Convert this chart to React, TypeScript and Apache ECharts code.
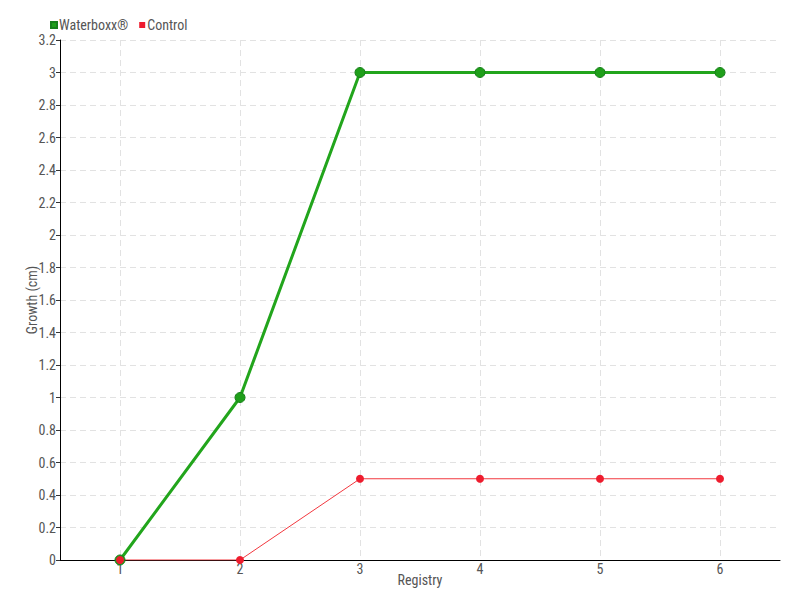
import React, { useEffect, useRef } from "react";
import * as echarts from "echarts";

const categories = ["1", "2", "3", "4", "5", "6"];
const waterboxx = [0, 1, 3, 3, 3, 3];
const control = [0, 0, 0.5, 0.5, 0.5, 0.5];
const gridCats = ["a", "1", "b", "2", "c", "3", "d", "4", "e", "5", "f", "6", "g"];

const FONT = "'Liberation Sans Narrow', 'Roboto Condensed', Roboto, sans-serif";

export default function App() {
  const ref = useRef<HTMLDivElement>(null);
  useEffect(() => {
    document.body.style.margin = "0";
    const chart = echarts.init(ref.current!, null, { renderer: "svg" });
    chart.setOption({
      animation: false,
      textStyle: { fontFamily: FONT, color: "#555" },
      legend: {
        left: 45,
        top: 13,
        itemWidth: 6,
        itemHeight: 6,
        itemGap: 11,
        icon: "rect",
        textStyle: { fontFamily: FONT, fontSize: 14, color: "#555", padding: [0, 0, 0, -3] },
        data: ["Waterboxx®", "Control"],
      },
      grid: { left: 60, right: 20, top: 40, bottom: 40, containLabel: false },
      xAxis: [
        {
          type: "category",
          data: categories,
          boundaryGap: true,
          name: "Registry",
          nameLocation: "middle",
          nameGap: 13,
          nameMoveOverlap: false,
          nameTextStyle: { fontFamily: FONT, fontSize: 14, color: "#555" },
          axisLine: { lineStyle: { color: "#000", width: 1 } },
          axisTick: { alignWithLabel: true, length: 6, lineStyle: { color: "#333" } },
          axisLabel: { fontFamily: FONT, fontSize: 14, color: "#555", margin: 2 },
          splitLine: { show: false },
        },
        {
          type: "category",
          data: gridCats,
          boundaryGap: false,
          position: "bottom",
          axisLine: { show: false },
          axisTick: { show: false },
          axisLabel: { show: false },
          splitLine: {
            show: true,
            interval: (idx: number) => idx % 2 === 1,
            lineStyle: { color: "#e2e2e2", type: [6, 4] },
          },
        },
      ],
      yAxis: {
        type: "value",
        min: 0,
        max: 3.2,
        interval: 0.2,
        name: "Growth (cm)",
        nameLocation: "middle",
        nameGap: 21,
        nameMoveOverlap: false,
        nameTextStyle: { fontFamily: FONT, fontSize: 14, color: "#555" },
        axisLine: { show: true, lineStyle: { color: "#000", width: 1 } },
        axisTick: { show: true, length: 4, lineStyle: { color: "#333" } },
        axisLabel: {
          fontFamily: FONT,
          fontSize: 14,
          color: "#555",
          margin: 4,
          formatter: (v: number) => String(Math.round(v * 10) / 10),
        },
        splitLine: { show: true, lineStyle: { color: "#e2e2e2", type: [6, 4] } },
      },
      series: [
        {
          name: "Waterboxx®",
          type: "line",
          data: waterboxx,
          xAxisIndex: 0,
          color: "#1f9f1a",
          symbol: "circle",
          symbolSize: 10,
          lineStyle: { width: 3, color: "#22a51c" },
          itemStyle: { color: "#1f9f1a", borderColor: "#17801a", borderWidth: 1 },
        },
        {
          name: "Control",
          type: "line",
          data: control,
          xAxisIndex: 0,
          color: "#ee1c2e",
          symbol: "circle",
          symbolSize: 8,
          lineStyle: { width: 1, color: "#f2383f" },
          itemStyle: { color: "#ee1c2e" },
        },
      ],
    });
    return () => chart.dispose();
  }, []);
  return <div ref={ref} style={{ width: 800, height: 600 }} />;
}
